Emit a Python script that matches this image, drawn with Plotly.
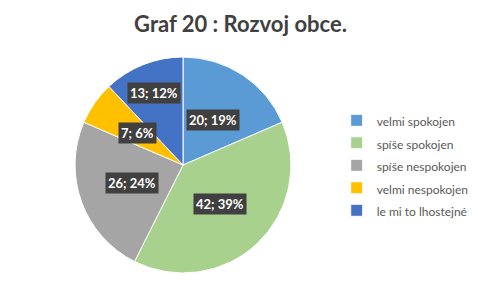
import math
import plotly.graph_objects as go

categories = ["velmi spokojen", "spíše spokojen", "spíše nespokojen", "velmi nespokojen", "le mi to lhostejné"]
counts = [20, 42, 26, 7, 13]
percents = [19, 39, 24, 6, 12]
colors = ["#5B9BD5", "#A9D18E", "#A5A5A5", "#FFC000", "#4472C4"]
label_radius = [0.5, 0.5, 0.5, 0.52, 0.72]

W, H = 481, 289
dom_x = [0.156, 0.605]
dom_y = [0.055, 0.803]

legend_names = ['<span style="font-size:12px">%s</span>' % c for c in categories]

fig = go.Figure(go.Pie(
    labels=legend_names,
    values=counts,
    sort=False,
    direction="clockwise",
    rotation=0,
    marker=dict(colors=colors, line=dict(color="white", width=1)),
    textinfo="none",
    hoverinfo="label+value+percent",
    domain=dict(x=dom_x, y=dom_y),
))

# label boxes placed at slice bisectors, computed from data
cx = (dom_x[0] + dom_x[1]) / 2 * W
cy = (dom_y[0] + dom_y[1]) / 2 * H
r = min((dom_x[1] - dom_x[0]) * W, (dom_y[1] - dom_y[0]) * H) / 2
total = sum(counts)
cum = 0
for v, p, f in zip(counts, percents, label_radius):
    mid = (cum + v / 2) / total * 2 * math.pi
    cum += v
    px = cx + r * f * math.sin(mid)
    py = cy + r * f * math.cos(mid)
    fig.add_annotation(
        x=px / W, y=py / H, xref="paper", yref="paper",
        xanchor="center", yanchor="middle",
        text="<b>%d; %d%%</b>" % (v, p), showarrow=False,
        font=dict(family="Lato, Open Sans, sans-serif", size=13, color="white"),
        bgcolor="#404040", borderpad=2,
    )

fig.update_layout(
    width=W, height=H,
    margin=dict(l=0, r=0, t=0, b=0, autoexpand=False),
    paper_bgcolor="white",
    title=dict(text="<b>Graf 20 : Rozvoj obce.</b>", x=0.5, xanchor="center",
               y=0.915, yanchor="middle",
               font=dict(family="Lato, Open Sans, sans-serif", size=22, color="#404040")),
    legend=dict(x=0.70, xanchor="left", y=0.64, yanchor="top",
                font=dict(family="Lato, Open Sans, sans-serif", size=15, color="#595959"),
                itemwidth=30, bgcolor="rgba(0,0,0,0)"),
    showlegend=True,
)

fig.write_html("out.html")
